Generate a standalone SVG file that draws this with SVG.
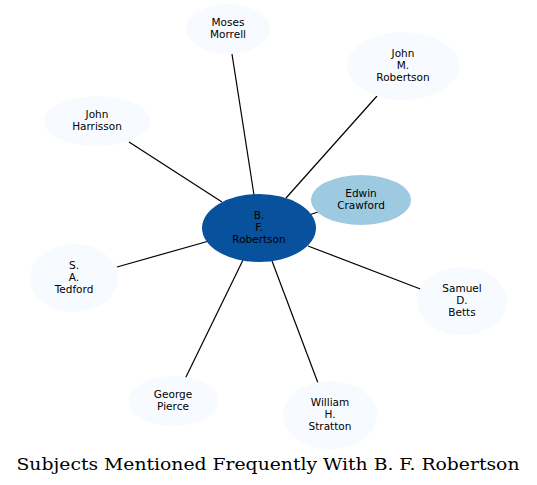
<svg xmlns="http://www.w3.org/2000/svg" width="537" height="485" viewBox="0 0 537 485">
<style>
.n{fill:#f7fbff;stroke:none}
.t{font-family:"DejaVu Sans",sans-serif;font-size:10.5px;fill:#000;text-anchor:middle}
.e line{stroke:#000;stroke-width:1.2}
</style>
<rect width="537" height="485" fill="#fff"/>
<g class="e" id="edges">
<line x1="232" y1="54" x2="254" y2="195"/>
<line x1="377" y1="96" x2="286" y2="198"/>
<line x1="129" y1="142" x2="222" y2="202"/>
<line x1="318" y1="212" x2="309" y2="215"/>
<line x1="117" y1="267" x2="209" y2="241"/>
<line x1="423" y1="290" x2="308" y2="246"/>
<line x1="185" y1="379" x2="243" y2="260"/>
<line x1="318" y1="383" x2="272" y2="261"/>
</g>
<g id="center"><ellipse cx="259" cy="228" rx="57" ry="34" fill="#08519c"/><text class="t"><tspan x="259" y="219">B.</tspan><tspan x="259" y="231">F.</tspan><tspan x="259" y="243">Robertson</tspan></text></g>
<g id="edwin"><ellipse cx="361" cy="200" rx="50" ry="25" fill="#9ecae1"/><text class="t"><tspan x="361" y="197">Edwin</tspan><tspan x="361" y="209">Crawford</tspan></text></g>
<g id="moses"><ellipse class="n" cx="228" cy="29" rx="42" ry="25"/><text class="t"><tspan x="228" y="26">Moses</tspan><tspan x="228" y="38">Morrell</tspan></text></g>
<g id="johnm"><ellipse class="n" cx="403" cy="66" rx="56" ry="34"/><text class="t"><tspan x="403" y="57">John</tspan><tspan x="403" y="69">M.</tspan><tspan x="403" y="81">Robertson</tspan></text></g>
<g id="harrisson"><ellipse class="n" cx="97" cy="121" rx="53" ry="25"/><text class="t"><tspan x="97" y="118">John</tspan><tspan x="97" y="130">Harrisson</tspan></text></g>
<g id="tedford"><ellipse class="n" cx="74" cy="278" rx="44" ry="34"/><text class="t"><tspan x="74" y="269">S.</tspan><tspan x="74" y="281">A.</tspan><tspan x="74" y="293">Tedford</tspan></text></g>
<g id="betts"><ellipse class="n" cx="462" cy="301" rx="45" ry="34"/><text class="t"><tspan x="462" y="292">Samuel</tspan><tspan x="462" y="304">D.</tspan><tspan x="462" y="316">Betts</tspan></text></g>
<g id="pierce"><ellipse class="n" cx="173" cy="401" rx="45" ry="25"/><text class="t"><tspan x="173" y="398">George</tspan><tspan x="173" y="410">Pierce</tspan></text></g>
<g id="stratton"><ellipse class="n" cx="330" cy="415" rx="47" ry="34"/><text class="t"><tspan x="330" y="406">William</tspan><tspan x="330" y="418">H.</tspan><tspan x="330" y="430">Stratton</tspan></text></g>
<text x="268" y="470" font-family="'DejaVu Serif',serif" font-size="16" text-anchor="middle" textLength="503" lengthAdjust="spacingAndGlyphs">Subjects Mentioned Frequently With B. F. Robertson</text>
</svg>
